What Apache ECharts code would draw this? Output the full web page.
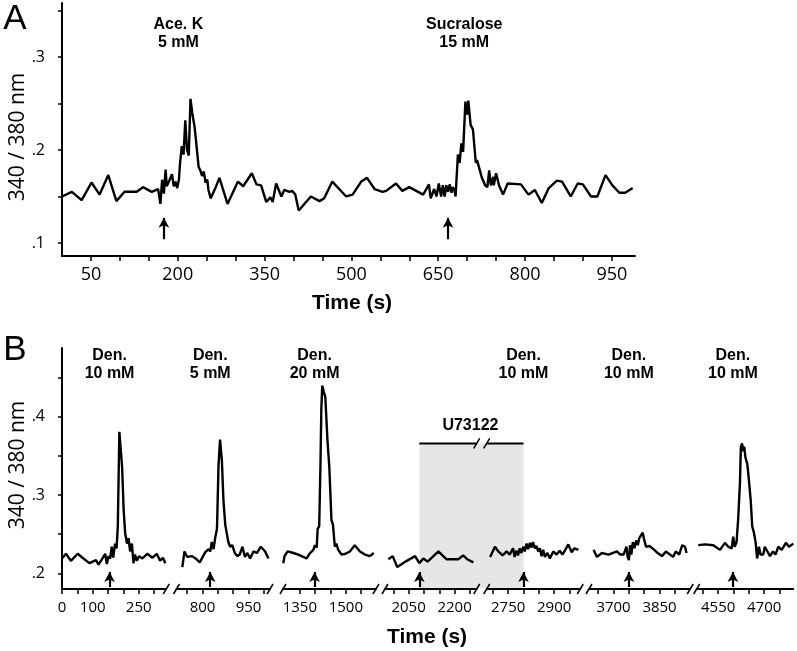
<!DOCTYPE html>
<html>
<head>
<meta charset="utf-8">
<script src="https://cdn.jsdelivr.net/npm/echarts@6/dist/echarts.min.js"></script>
<style>
  html, body { margin: 0; padding: 0; background: #fff; }
  #chart { width: 797px; height: 651px; }
</style>
</head>
<body>
<div id="chart"></div>
<script>
// ---- panel A : Ace. K and sucralose (time s, 340/380 ratio)
const aTrace = [[0,0.150],[17,0.155],[34,0.146],[51,0.165],[65,0.152],[80,0.173],[94,0.145],[108,0.155],[129,0.155],[140,0.160],[155,0.155],[166,0.158],[170,0.142],[173,0.168],[176,0.153],[179,0.179],[181,0.161],[186,0.168],[190,0.174],[193,0.161],[196,0.166],[199,0.159],[202,0.168],[204,0.186],[207,0.204],[210,0.195],[213,0.232],[216,0.200],[219,0.194],[222,0.255],[225,0.240],[229,0.225],[232,0.207],[236,0.182],[239,0.178],[242,0.172],[245,0.177],[248,0.165],[251,0.168],[253,0.157],[257,0.148],[265,0.159],[272,0.170],[286,0.142],[304,0.166],[313,0.161],[328,0.175],[336,0.163],[344,0.162],[353,0.144],[360,0.149],[364,0.144],[370,0.164],[379,0.150],[384,0.157],[393,0.155],[398,0.156],[403,0.152],[409,0.135],[430,0.150],[445,0.145],[453,0.148],[467,0.166],[491,0.150],[502,0.152],[517,0.166],[527,0.170],[540,0.158],[554,0.155],[560,0.156],[577,0.164],[588,0.156],[600,0.160],[624,0.152],[634,0.163],[637,0.148],[643,0.158],[647,0.150],[651,0.164],[655,0.150],[658,0.162],[661,0.150],[664,0.162],[667,0.155],[670,0.163],[673,0.154],[675,0.160],[678,0.157],[680,0.150],[684,0.195],[687,0.186],[690,0.207],[693,0.198],[697,0.252],[700,0.238],[702,0.253],[706,0.227],[710,0.222],[715,0.186],[717,0.189],[722,0.178],[725,0.171],[731,0.162],[735,0.160],[738,0.178],[741,0.162],[745,0.171],[746,0.162],[750,0.175],[755,0.162],[762,0.152],[770,0.164],[793,0.163],[806,0.152],[817,0.157],[829,0.143],[841,0.159],[855,0.167],[864,0.166],[879,0.150],[891,0.164],[900,0.163],[914,0.150],[925,0.150],[939,0.173],[951,0.162],[963,0.154],[973,0.154],[986,0.159]];
const aStim = [176, 667];
const aLabels = [['Ace. K\n5 mM', 201], ['Sucralose\n15 mM', 695]];
const aXTicks = [50,100,150,200,250,300,350,400,450,500,550,600,650,700,750,800,850,900,950];
const aXLabels = [50,200,350,500,650,800,950];
const aYTicks = [0.1,0.15,0.2,0.25,0.3,0.35];
const aYLabels = [0.1,0.2,0.3];

// ---- panel B : denatonium, broken time axis (one array per segment)
const b1 = [[0,0.219],[13,0.225],[29,0.216],[51,0.225],[73,0.218],[89,0.213],[111,0.217],[119,0.211],[130,0.218],[141,0.225],[146,0.212],[152,0.222],[157,0.219],[162,0.234],[167,0.220],[173,0.238],[178,0.232],[182,0.260],[187,0.381],[191,0.379],[196,0.336],[201,0.281],[206,0.251],[212,0.238],[217,0.245],[222,0.228],[228,0.238],[233,0.213],[238,0.224],[244,0.216],[251,0.222],[262,0.219],[278,0.225],[295,0.220],[309,0.225],[320,0.216],[329,0.220],[337,0.213]];
const b2 = [[734,0.208],[741,0.228],[750,0.221],[766,0.222],[777,0.219],[791,0.214],[803,0.223],[809,0.227],[814,0.226],[820,0.231],[825,0.228],[830,0.240],[836,0.231],[841,0.245],[847,0.257],[852,0.338],[857,0.371],[863,0.344],[868,0.294],[874,0.262],[879,0.260],[884,0.240],[890,0.234],[897,0.236],[905,0.226],[914,0.222],[921,0.224],[930,0.234],[938,0.221],[946,0.226],[955,0.219],[966,0.228],[977,0.226],[990,0.234],[1004,0.228],[1015,0.219]];
const b3 = [[1296,0.213],[1300,0.222],[1310,0.228],[1329,0.226],[1345,0.224],[1361,0.221],[1372,0.219],[1383,0.226],[1394,0.230],[1399,0.236],[1405,0.233],[1408,0.257],[1413,0.260],[1417,0.336],[1420,0.410],[1423,0.440],[1428,0.432],[1433,0.425],[1440,0.370],[1446,0.336],[1453,0.268],[1458,0.262],[1464,0.234],[1469,0.238],[1475,0.230],[1486,0.224],[1499,0.225],[1513,0.228],[1529,0.236],[1546,0.228],[1562,0.224],[1578,0.222],[1591,0.226]];
const b4 = [[1984,0.218],[1998,0.222],[2013,0.208],[2044,0.216],[2071,0.222],[2085,0.213],[2098,0.219],[2112,0.215],[2131,0.222],[2147,0.228],[2174,0.218],[2212,0.218],[2228,0.223],[2241,0.218],[2261,0.214]];
const b5 = [[2691,0.221],[2707,0.234],[2718,0.228],[2732,0.223],[2745,0.228],[2755,0.224],[2766,0.232],[2771,0.221],[2777,0.229],[2782,0.223],[2788,0.232],[2793,0.226],[2799,0.234],[2804,0.228],[2810,0.238],[2815,0.231],[2821,0.239],[2826,0.233],[2831,0.240],[2837,0.232],[2842,0.235],[2848,0.228],[2853,0.232],[2859,0.222],[2864,0.230],[2870,0.221],[2878,0.226],[2886,0.219],[2897,0.228],[2908,0.224],[2918,0.229],[2927,0.224],[2939,0.232],[2946,0.237],[2957,0.227],[2966,0.232],[2979,0.230]];
const b6 = [[3635,0.230],[3646,0.221],[3662,0.226],[3684,0.224],[3711,0.228],[3722,0.224],[3733,0.224],[3742,0.234],[3746,0.221],[3750,0.217],[3754,0.236],[3758,0.224],[3763,0.240],[3768,0.232],[3774,0.242],[3779,0.236],[3784,0.245],[3789,0.243],[3795,0.252],[3800,0.243],[3806,0.234],[3817,0.235],[3833,0.230],[3844,0.226],[3858,0.222],[3871,0.228],[3884,0.224],[3894,0.221],[3903,0.228],[3914,0.224],[3924,0.236],[3933,0.234],[3938,0.226]];
const b7 = [[4485,0.236],[4507,0.237],[4534,0.236],[4556,0.230],[4572,0.239],[4583,0.234],[4594,0.232],[4599,0.247],[4604,0.234],[4610,0.240],[4615,0.268],[4621,0.315],[4624,0.362],[4628,0.366],[4632,0.356],[4635,0.362],[4639,0.348],[4645,0.340],[4650,0.320],[4656,0.294],[4661,0.260],[4666,0.253],[4672,0.240],[4677,0.219],[4683,0.234],[4688,0.224],[4697,0.224],[4702,0.234],[4719,0.222],[4729,0.228],[4737,0.224],[4746,0.234],[4757,0.230],[4771,0.239],[4781,0.234],[4795,0.238]];
const bTraces = [b1, b2, b3, b4, b5, b6, b7];
const bStim = [155, 825, 1398, 2085, 2800, 3750, 4598];
const bLabels = ['Den.\n10 mM', 'Den.\n5 mM', 'Den.\n20 mM', '', 'Den.\n10 mM', 'Den.\n10 mM', 'Den.\n10 mM'];
const bXTicks = [[0,50,100,150,200,250,300],[750,800,850,900,950,1000],[1350,1400,1450,1500,1550],[2000,2050,2100,2150,2200,2250],[2700,2750,2800,2850,2900,2950],[3650,3700,3750,3800,3850,3900],[4500,4550,4600,4650,4700,4750]];
const bXLabels = [[0,100,250],[800,950],[1350,1500],[2050,2200],[2750,2900],[3700,3850],[4550,4700]];
const bYTicks = [0.2,0.25,0.3,0.35,0.4,0.45];
const bYLabels = [0.2,0.3,0.4];
const u73122 = [2085, 2800];   // treatment window (s)

// ---- layout
const PX = 0.3067;  // px per second in panel B
const segs = [
  {min: 0, max: 340, left: 62},
  {min: 715, max: 1020, left: 176.5},
  {min: 1295, max: 1598, left: 283},
  {min: 1973, max: 2272, left: 385},
  {min: 2680, max: 2985, left: 486.7},
  {min: 3620, max: 3950, left: 589},
  {min: 4480, max: 4795, left: 696.7}
];
const aY = [0.086, 0.358];
const bY = [0.18, 0.488];
const tickFont = 'Open Sans';
const boldFont = 'Liberation Sans';

const axisLine = {show: true, onZero: false, lineStyle: {color: '#000', width: 2}};
const yFmt = v => v.toFixed(1).slice(1);

function xAxisOf(grid, min, max, ticks, labels, size, margin) {
  return {
    gridIndex: grid, type: 'value', min: min, max: max,
    axisLine: axisLine,
    axisTick: {show: true, customValues: ticks, length: 5, lineStyle: {color: '#000', width: 1.5}},
    axisLabel: {customValues: labels, formatter: v => String(v), fontSize: size,
      fontFamily: tickFont, color: '#000', margin: margin},
    splitLine: {show: false}
  };
}
function yAxisOf(grid, range, ticks, labels, show) {
  return {
    gridIndex: grid, type: 'value', min: range[0], max: range[1], show: show,
    axisLine: axisLine,
    axisTick: {show: true, customValues: ticks, length: 4, lineStyle: {color: '#000', width: 1.5}},
    axisLabel: {customValues: labels, formatter: yFmt, fontSize: 16,
      fontFamily: tickFont, color: '#000', margin: 17},
    splitLine: {show: false}
  };
}
const textLabel = {
  show: true, position: 'inside', formatter: p => p.name,
  fontFamily: boldFont, fontWeight: 'bold', fontSize: 16, lineHeight: 18, color: '#000'
};
function arrows(ts, y0, y1) {
  return {
    silent: true, animation: false, symbol: ['none', 'arrow'], symbolSize: [8, 10],
    lineStyle: {color: '#000', width: 2.2, type: 'solid'}, label: {show: false},
    emphasis: {disabled: true},
    data: ts.map(t => [{coord: [t, y0]}, {coord: [t, y1]}])
  };
}
function labelPoints(items, y) {
  return {
    symbol: 'rect', symbolSize: 1, itemStyle: {color: 'rgba(0,0,0,0)'},
    label: textLabel, silent: true,
    data: items.filter(d => d[0]).map(d => ({name: d[0], coord: [d[1], y]}))
  };
}

const grids = [{left: 62, top: 3, width: 573, height: 253}];
const xAxes = [xAxisOf(0, 0, 990, aXTicks, aXLabels, 18, 10)];
const yAxes = [yAxisOf(0, aY, aYTicks, aYLabels, true)];
const series = [{
  type: 'line', xAxisIndex: 0, yAxisIndex: 0, data: aTrace, showSymbol: false,
  lineStyle: {color: '#000', width: 2.4}, animation: false, silent: true,
  markLine: arrows(aStim, 0.104, 0.127),
  markPoint: labelPoints(aLabels, 0.325)
}];
segs.forEach((s, k) => {
  const i = k + 1;
  grids.push({left: s.left, top: 348, width: (s.max - s.min) * PX, height: 241});
  xAxes.push(xAxisOf(i, s.min, s.max, bXTicks[k], bXLabels[k], 15, 11));
  yAxes.push(yAxisOf(i, bY, bYTicks, bYLabels, k === 0));
  series.push({
    type: 'line', xAxisIndex: i, yAxisIndex: i, data: bTraces[k], showSymbol: false,
    lineStyle: {color: '#000', width: 2.4}, animation: false, silent: true,
    markLine: arrows([bStim[k]], 0.1825, 0.2017),
    markPoint: labelPoints([[bLabels[k], bStim[k]]], 0.467)
  });
});

const chart = echarts.init(document.getElementById('chart'));
chart.setOption({animation: false, grid: grids, xAxis: xAxes, yAxis: yAxes, series: series});

// ---- decorations: axis breaks, treatment window, panel texts
const px = (i, x, y) => chart.convertToPixel({xAxisIndex: i, yAxisIndex: i}, [x, y]);
const g = [];
function slash(p) {
  g.push({type: 'line', shape: {x1: p[0] - 3, y1: p[1] + 5, x2: p[0] + 3, y2: p[1] - 5},
    style: {stroke: '#000', lineWidth: 1.5}});
}
segs.forEach((s, k) => {
  if (k > 0) slash(px(k + 1, s.min, bY[0]));
  if (k < segs.length - 1) slash(px(k + 1, s.max, bY[0]));
});
const uTop = 0.366;
const r1 = px(4, u73122[0], uTop), r2 = px(5, u73122[1], bY[0]);
g.push({type: 'rect', z: -1, shape: {x: r1[0], y: r1[1], width: r2[0] - r1[0], height: r2[1] - r1[1] - 1},
  style: {fill: '#e6e6e6'}});
const e4 = px(4, segs[3].max, uTop), s5 = px(5, segs[4].min, uTop), u2 = px(5, u73122[1], uTop);
g.push({type: 'line', shape: {x1: r1[0], y1: r1[1], x2: e4[0], y2: e4[1]}, style: {stroke: '#000', lineWidth: 2}});
g.push({type: 'line', shape: {x1: s5[0], y1: s5[1], x2: u2[0], y2: u2[1]}, style: {stroke: '#000', lineWidth: 2}});
slash(e4); slash(s5);
g.push({type: 'text', x: (r1[0] + u2[0]) / 2 - 1, y: r1[1] - 18,
  style: {text: 'U73122', align: 'center', verticalAlign: 'middle', fill: '#000',
    fontFamily: boldFont, fontWeight: 'bold', fontSize: 16}});

function txt(text, x, y, size, weight, family, rot) {
  g.push({type: 'text', x: x, y: y, rotation: rot || 0,
    style: {text: text, align: 'center', verticalAlign: 'middle', fill: '#000',
      fontFamily: family, fontWeight: weight, fontSize: size}});
}
txt('A', 15, 19, 35, 'normal', boldFont);
txt('B', 15, 350, 35, 'normal', boldFont);
txt('Time (s)', 352, 303, 21, 'bold', boldFont);
txt('Time (s)', 427, 637, 21, 'bold', boldFont);
txt('340 / 380 nm', 18, 137, 21, 'normal', tickFont, Math.PI / 2);
txt('340 / 380 nm', 18, 465, 21, 'normal', tickFont, Math.PI / 2);

chart.setOption({graphic: {elements: g}});
</script>
</body>
</html>
